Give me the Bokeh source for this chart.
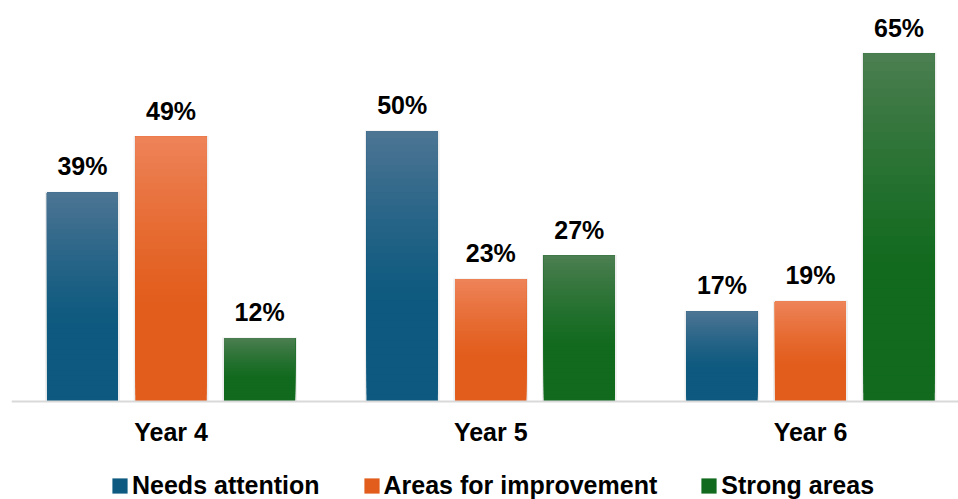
from bokeh.plotting import figure
from bokeh.models import (ColumnDataSource, Range1d, LabelSet, Legend, LegendItem, Span)
from bokeh.core.properties import value
from bokeh.embed import file_html
from bokeh.resources import INLINE

# ---- data ----
categories = ["Year 4", "Year 5", "Year 6"]
series_names = ["Needs attention", "Areas for improvement", "Strong areas"]
needs_attention = [39.0, 50.4, 16.8]
areas_for_improvement = [49.4, 22.8, 18.7]
strong_areas = [11.8, 27.2, 64.9]
needs_attention_labels = ["39%", "50%", "17%"]
areas_for_improvement_labels = ["49%", "23%", "19%"]
strong_areas_labels = ["12%", "27%", "65%"]
series_values = [needs_attention, areas_for_improvement, strong_areas]
series_labels = [needs_attention_labels, areas_for_improvement_labels, strong_areas_labels]

# ---- styles ----
FONT = "Liberation Sans"
dark_colors = [(13, 89, 127), (226, 93, 28), (17, 106, 30)]
light_colors = [(78, 117, 147), (238, 132, 90), (76, 126, 81)]
offsets = [-0.277, 0.0, 0.277]
bar_w = 0.222
N_BANDS = 40

def hexc(c):
    return "#%02x%02x%02x" % tuple(int(round(v)) for v in c)

p = figure(width=958, height=499, output_backend="svg", toolbar_location=None,
           x_range=Range1d(-0.499, 2.463), y_range=Range1d(-18.28, 74.81),
           min_border_left=11, min_border_right=0, min_border_top=0,
           min_border_bottom=0, outline_line_color=None)
p.grid.visible = False
p.yaxis.visible = False
p.xaxis.visible = False

xs_group = list(range(len(categories)))
legend_items = []
for si, (name, vals, labs) in enumerate(zip(series_names, series_values, series_labels)):
    xs = [g + offsets[si] for g in xs_group]
    # soft shadow
    p.vbar(x=xs, top=[v + 0.15 for v in vals], width=bar_w + 0.012, bottom=0,
           fill_color="#000000", fill_alpha=0.07, line_color=None)
    base = p.vbar(x=xs, top=vals, width=bar_w, bottom=0,
                  fill_color=hexc(dark_colors[si]), line_color=None)
    legend_items.append(LegendItem(label=name, renderers=[base]))
    bx, bb, bt, bc = [], [], [], []
    for k in range(N_BANDS):
        t = (k + 0.5) / N_BANDS
        f = max(0.0, (t - 0.35) / 0.65)
        f = f ** 1.3
        col = tuple(d + (l - d) * f for d, l in zip(dark_colors[si], light_colors[si]))
        for x, v in zip(xs, vals):
            bx.append(x)
            bb.append(v * k / N_BANDS)
            bt.append(v)
            bc.append(hexc(col))
    p.vbar(source=ColumnDataSource(dict(x=bx, bottom=bb, top=bt, color=bc)),
           x="x", bottom="bottom", top="top", width=bar_w,
           fill_color="color", line_color=None)
    lab_src = ColumnDataSource(dict(x=xs, y=vals, text=labs))
    p.add_layout(LabelSet(source=lab_src, x="x", y="y", text="text", y_offset=17,
                          text_align="center", text_baseline="alphabetic",
                          text_font=value(FONT), text_font_style="bold",
                          text_font_size="25px", text_color="#000000"))

# category baseline and labels
p.add_layout(Span(location=0, dimension="width", line_color="#d9d9d9", line_width=2))
cat_src = ColumnDataSource(dict(x=xs_group, y=[0] * len(categories), text=categories))
p.add_layout(LabelSet(source=cat_src, x="x", y="y", text="text", y_offset=-39,
                      text_align="center", text_baseline="alphabetic",
                      text_font=value(FONT), text_font_style="bold",
                      text_font_size="25px", text_color="#000000"))

legend = Legend(items=legend_items, orientation="horizontal", location=(99, -1),
                glyph_width=19, glyph_height=19, label_standoff=3, spacing=42,
                label_text_font=FONT, label_text_font_style="bold",
                label_text_font_size="25px", label_text_color="#000000",
                border_line_color=None, background_fill_alpha=0,
                padding=0, margin=0)
p.add_layout(legend, "center")

open("out.html", "w").write(file_html(p, INLINE))
